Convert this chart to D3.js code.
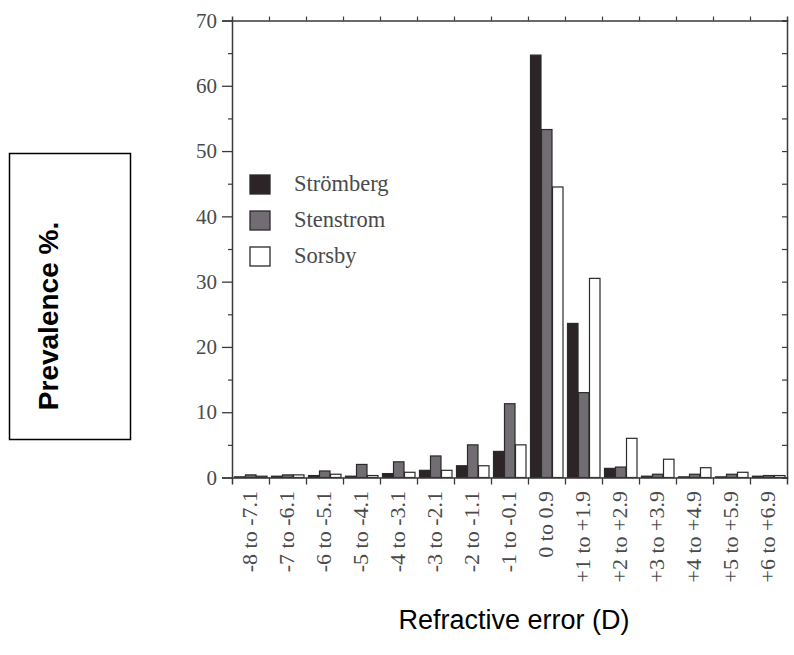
<!DOCTYPE html>
<html>
<head>
<meta charset="utf-8">
<script src="https://cdn.jsdelivr.net/npm/d3@7"></script>
<style>
  html, body { margin: 0; padding: 0; background: #fff; }
  svg { display: block; }
</style>
</head>
<body>
<script>
const categories = ["-8 to -7.1", "-7 to -6.1", "-6 to -5.1", "-5 to -4.1", "-4 to -3.1", "-3 to -2.1", "-2 to -1.1", "-1 to -0.1", "0 to 0.9", "+1 to +1.9", "+2 to +2.9", "+3 to +3.9", "+4 to +4.9", "+5 to +5.9", "+6 to +6.9"];
const seriesNames = ["Strömberg", "Stenstrom", "Sorsby"];
const stromberg = [0.1, 0.2, 0.3, 0.2, 0.6, 1.1, 1.8, 4.0, 64.7, 23.6, 1.4, 0.2, 0.1, 0.1, 0.2];
const stenstrom = [0.4, 0.4, 1.0, 2.0, 2.4, 3.3, 5.0, 11.3, 53.3, 13.0, 1.6, 0.5, 0.5, 0.5, 0.3];
const sorsby = [0.2, 0.4, 0.5, 0.3, 0.8, 1.1, 1.8, 5.0, 44.5, 30.5, 6.0, 2.8, 1.5, 0.8, 0.3];
const yTicks = [0, 10, 20, 30, 40, 50, 60, 70];
const yMinorTicks = [5, 15, 25, 35, 45, 55, 65];

(function () {
const seriesValues = [stromberg, stenstrom, sorsby];
const fills = ["#2c2426", "#726d72", "#ffffff"];

const W = 794, H = 655;
const svg = d3.select("body").append("svg").attr("width", W).attr("height", H);
svg.append("rect").attr("width", W).attr("height", H).attr("fill", "#fff");

const pLeft = 232, pRight = 787, pTop = 20.5, pBottom = 477.5;
const x = d3.scaleBand().domain(categories).range([pLeft, pRight]).paddingInner(0).paddingOuter(0);
const xs = d3.scaleBand().domain(seriesNames).range([2, x.bandwidth() - 2]).padding(0);
const y = d3.scaleLinear().domain([0, 70]).range([pBottom, pTop]);

const axisColor = "#3a3a3a";
const serif = "'Liberation Serif', 'DejaVu Serif', serif";
const sans = "'Liberation Sans', Arial, sans-serif";

// Bars
const rows = categories.map((c, i) => ({ c, vals: seriesValues.map((s, k) => ({ name: seriesNames[k], v: s[i], k })) }));
const groups = svg.append("g").selectAll("g").data(rows).join("g")
  .attr("transform", d => `translate(${x(d.c)},0)`);
groups.selectAll("rect").data(d => d.vals).join("rect")
  .attr("x", d => xs(d.name) + 0.5)
  .attr("width", xs.bandwidth() - 0.5)
  .attr("y", d => y(d.v))
  .attr("height", d => y(0) - y(d.v))
  .attr("fill", d => fills[d.k])
  .attr("stroke", "#2a2a2a")
  .attr("stroke-width", 1.2);

// Left axis
const leftAxis = d3.axisLeft(y).tickValues(yTicks).tickSize(10).tickPadding(5).tickFormat(d3.format("d"));
const gl = svg.append("g").attr("transform", `translate(${pLeft},0)`).call(leftAxis);
gl.select(".domain").attr("stroke", axisColor).attr("stroke-width", 1.5);
gl.selectAll(".tick line").attr("stroke", axisColor).attr("stroke-width", 1.3);
gl.selectAll(".tick text").attr("font-family", serif).attr("font-size", 21).attr("fill", "#4a4a4a");
const glm = svg.append("g").attr("transform", `translate(${pLeft},0)`).call(d3.axisLeft(y).tickValues(yMinorTicks).tickSize(4).tickFormat(""));
glm.select(".domain").remove();
glm.selectAll(".tick line").attr("stroke", axisColor).attr("stroke-width", 1.2);

// Right axis (inward ticks)
const gr = svg.append("g").attr("transform", `translate(${pRight},0)`)
  .call(d3.axisLeft(y).tickValues(yTicks.concat(yMinorTicks)).tickSize(5).tickFormat(""));
gr.select(".domain").attr("stroke", axisColor).attr("stroke-width", 1.5);
gr.selectAll(".tick line").attr("stroke", axisColor).attr("stroke-width", 1.2);

// Bottom axis: ticks at category boundaries
const boundaries = categories.slice(1).map(c => x(c));
const xb = d3.scaleLinear().domain([pLeft, pRight]).range([pLeft, pRight]);
const gb = svg.append("g").attr("transform", `translate(0,${pBottom})`)
  .call(d3.axisBottom(xb).tickValues(boundaries).tickSize(7).tickFormat(""));
gb.select(".domain").attr("stroke", axisColor).attr("stroke-width", 1.5);
gb.selectAll(".tick line").attr("stroke", axisColor).attr("stroke-width", 1.3);

// Top axis
const gt = svg.append("g").attr("transform", `translate(0,${pTop})`)
  .call(d3.axisTop(xb).tickValues(boundaries).tickSize(4).tickFormat(""));
gt.select(".domain").attr("stroke", axisColor).attr("stroke-width", 1.5);
gt.selectAll(".tick line").attr("stroke", axisColor).attr("stroke-width", 1.2);

// Category labels (rotated)
svg.append("g").selectAll("text").data(categories).join("text")
  .attr("transform", d => `translate(${x(d) + x.bandwidth() / 2 - 1},491) rotate(-90)`)
  .attr("text-anchor", "end")
  .attr("dominant-baseline", "central")
  .attr("font-family", serif)
  .attr("font-size", 22)
  .attr("fill", "#4a4a4a")
  .text(d => d);

// Legend
const legend = svg.append("g").selectAll("g").data(seriesNames).join("g")
  .attr("transform", (d, i) => `translate(250,${175 + i * 36})`);
legend.append("rect").attr("width", 20).attr("height", 19)
  .attr("fill", (d, i) => fills[i]).attr("stroke", "#2a2a2a").attr("stroke-width", 1.3);
legend.append("text").attr("x", 44).attr("y", 16)
  .attr("font-family", serif).attr("font-size", 22.5).attr("fill", "#4a4a4a")
  .text(d => d);

// Y title in box
svg.append("rect").attr("x", 9.5).attr("y", 153.5).attr("width", 121).attr("height", 286)
  .attr("fill", "none").attr("stroke", "#000").attr("stroke-width", 1.5);
svg.append("text").attr("transform", "translate(58,316) rotate(-90)")
  .attr("text-anchor", "middle")
  .attr("font-family", sans).attr("font-weight", "bold").attr("font-size", 28)
  .attr("fill", "#000").text("Prevalence %.");

// X title
svg.append("text").attr("x", 514).attr("y", 629)
  .attr("text-anchor", "middle")
  .attr("font-family", sans).attr("font-size", 27)
  .attr("fill", "#000").text("Refractive error (D)");
})();
</script>
</body>
</html>
